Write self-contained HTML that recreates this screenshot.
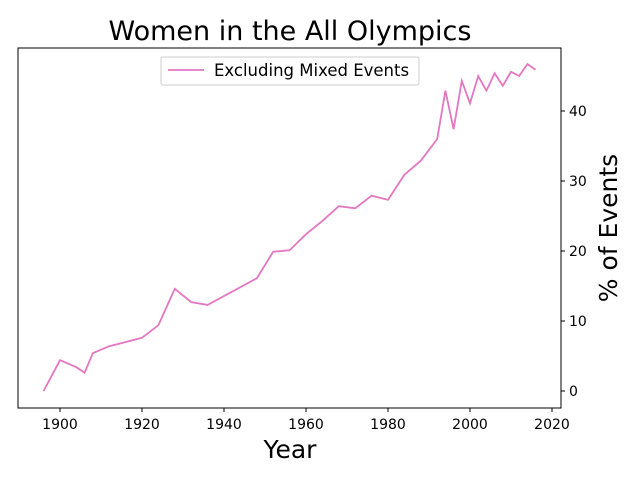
<!DOCTYPE html>
<html><head><meta charset="utf-8"><style>
body{margin:0;background:#fff;}
svg text{font-family:"DejaVu Sans","Liberation Sans",sans-serif;}
</style></head><body>
<svg id="chart" width="640" height="480">
<text x="290" y="40" text-anchor="middle" font-size="27">Women in the All Olympics</text>
<rect x="18" y="48" width="543" height="360" fill="none" stroke="#000" stroke-width="1"/>
<g id="xticks"></g>
<g id="yticks"></g>
<text x="290" y="458" text-anchor="middle" font-size="25">Year</text>
<text transform="translate(617,228) rotate(-90)" text-anchor="middle" font-size="25">% of Events</text>
<path id="line" fill="none" stroke="#e377c2" stroke-width="1.8"/>
<g>
<rect x="161" y="57" width="258" height="28" fill="#fff" stroke="#ccc" rx="2"/>
<line x1="168" y1="70" x2="204" y2="70" stroke="#e377c2" stroke-width="1.8"/>
<text x="214" y="76" font-size="16.5">Excluding Mixed Events</text>
</g>
</svg>
<script>
const years=[1896,1900,1904,1906,1908,1912,1920,1924,1928,1932,1936,1948,1952,1956,1960,1964,1968,1972,1976,1980,1984,1988,1992,1994,1996,1998,2000,2002,2004,2006,2008,2010,2012,2014,2016];
const pct=[0,4.4,3.4,2.6,5.4,6.4,7.6,9.4,14.6,12.7,12.3,16.1,19.9,20.1,22.4,24.3,26.4,26.1,27.9,27.3,30.9,32.9,36.0,42.9,37.4,44.3,41.1,45.0,42.9,45.4,43.6,45.6,45.0,46.7,45.9];
const xTicks=[1900,1920,1940,1960,1980,2000,2020];
const yTicks=[0,10,20,30,40];
const X=v=>60+(v-1900)*4.1;
const Y=v=>391-v*7;
const NS="http://www.w3.org/2000/svg";
const xg=document.getElementById('xticks'),yg=document.getElementById('yticks');
xTicks.forEach(t=>{
const l=document.createElementNS(NS,'line');
l.setAttribute('x1',X(t));l.setAttribute('x2',X(t));l.setAttribute('y1',408);l.setAttribute('y2',412);l.setAttribute('stroke','#000');


xg.appendChild(l);
const tx=document.createElementNS(NS,'text');
tx.setAttribute('x',X(t));tx.setAttribute('y',429);tx.setAttribute('text-anchor','middle');tx.setAttribute('font-size','14');tx.textContent=t;


xg.appendChild(tx);
});
yTicks.forEach(t=>{
const l=document.createElementNS(NS,'line');
l.setAttribute('x1',561);l.setAttribute('x2',565);l.setAttribute('y1',Y(t));l.setAttribute('y2',Y(t));l.setAttribute('stroke','#000');


yg.appendChild(l);
const tx=document.createElementNS(NS,'text');
tx.setAttribute('x',569);tx.setAttribute('y',Y(t)+5);tx.setAttribute('font-size','14');tx.textContent=t;


yg.appendChild(tx);
});
document.getElementById('line').setAttribute('d',years.map((y,i)=>(i?'L':'M')+X(y)+','+Y(pct[i])).join(' '));
</script>
</body></html>
